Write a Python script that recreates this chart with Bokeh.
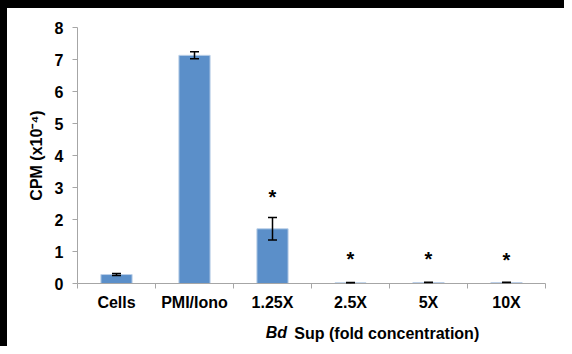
from bokeh.plotting import figure
from bokeh.models import (ColumnDataSource, Range1d, FixedTicker, Whisker, TeeHead,
                          LinearAxis)
from bokeh.core.properties import value
from bokeh.embed import file_html
from bokeh.resources import INLINE

# ---- data ----
categories = ["Cells", "PMI/Iono", "1.25X", "2.5X", "5X", "10X"]
cpm = [0.28, 7.13, 1.71, 0.02, 0.03, 0.03]          # CPM (x10^-4)
cpm_err = [0.03, 0.11, 0.35, 0.01, 0.01, 0.01]
significant = [False, False, True, True, True, True]
star_level = [0, 0, 2.69, 0.78, 0.78, 0.74]          # height of the '*' marks
y_ticks = [0, 1, 2, 3, 4, 5, 6, 7, 8]
x_title_italic = "Bd"
x_title_rest = "Sup (fold concentration)"

FONT = "Liberation Sans"
AXIS_GRAY = "#a6a6a6"

centers = [i + 0.5 for i in range(len(categories))]
src = ColumnDataSource(dict(
    x=centers, top=cpm,
    upper=[v + e for v, e in zip(cpm, cpm_err)],
    lower=[v - e for v, e in zip(cpm, cpm_err)],
))

p = figure(width=564, height=346, x_range=Range1d(0, len(categories)),
           y_range=Range1d(0, 8), output_backend="svg", toolbar_location=None,
           min_border_left=77, min_border_right=19, min_border_top=27,
           min_border_bottom=63)
# black strips along the top and left edge, as in the reference picture
p.styles = {"background-color": "white",
            "box-shadow": "inset 7px 8px 0px 0px black"}
p.background_fill_color = "white"
p.border_fill_color = None
p.outline_line_color = None
p.xgrid.visible = False
p.ygrid.visible = False

p.vbar(x="x", top="top", width=0.4, source=src, fill_color="#5b8fc9",
       line_color="#bcd0e8", line_width=1)

head_u = TeeHead(size=9, line_color="black", line_width=1.5)
head_l = TeeHead(size=9, line_color="black", line_width=1.5)
p.add_layout(Whisker(source=src, base="x", upper="upper", lower="lower",
                     line_color="black", line_width=1.5, level="overlay",
                     upper_head=head_u, lower_head=head_l))

sx = [c for c, s in zip(centers, significant) if s]
sy = [l for l, s in zip(star_level, significant) if s]
p.text(x=sx, y=sy, text=["*"] * len(sx), text_font=value(FONT),
       text_font_style="bold", text_font_size="20px", text_align="center",
       text_baseline="alphabetic", text_color="black")

# y axis
ya = p.yaxis[0]
ya.ticker = FixedTicker(ticks=y_ticks)
ya.axis_line_color = AXIS_GRAY
ya.major_tick_line_color = AXIS_GRAY
ya.major_tick_out = 5
ya.major_tick_in = 0
ya.minor_tick_line_color = None
ya.major_label_standoff = 9
ya.major_label_text_font = FONT
ya.major_label_text_font_style = "bold"
ya.major_label_text_font_size = "16px"
ya.major_label_text_color = "black"
ya.axis_label = "CPM (x10\u207b\u2074)"
ya.axis_label_text_font = FONT
ya.axis_label_text_font_style = "bold"
ya.axis_label_text_font_size = "16px"
ya.axis_label_text_color = "black"
ya.axis_label_standoff = 7

# x axis: labels at centers, tick marks at category boundaries
xa = p.xaxis[0]
xa.ticker = FixedTicker(ticks=centers, minor_ticks=list(range(len(categories) + 1)))
xa.major_label_overrides = {c: n for c, n in zip(centers, categories)}
xa.axis_line_color = AXIS_GRAY
xa.major_tick_line_color = None
xa.major_tick_out = 0
xa.major_tick_in = 0
xa.minor_tick_line_color = AXIS_GRAY
xa.minor_tick_out = 5
xa.minor_tick_in = 0
xa.major_label_standoff = 5
xa.major_label_text_font = FONT
xa.major_label_text_font_style = "bold"
xa.major_label_text_font_size = "16px"
xa.major_label_text_color = "black"


def title_axis(pos, text, style, standoff):
    ax = LinearAxis(ticker=FixedTicker(ticks=[pos], minor_ticks=[]),
                    major_label_overrides={pos: text},
                    axis_line_color=None, major_tick_line_color=None,
                    minor_tick_line_color=None, major_tick_out=0, major_tick_in=0,
                    major_label_standoff=standoff, major_label_text_font=FONT,
                    major_label_text_font_style=style,
                    major_label_text_font_size="16px",
                    major_label_text_color="black")
    p.add_layout(ax, "below")


# x axis title: italic "Bd" followed by bold text, on one line
title_axis(2.55, x_title_italic, "bold italic", 10)
title_axis(3.965, x_title_rest, "bold", -19)

open("out.html", "w").write(file_html(p, INLINE))
